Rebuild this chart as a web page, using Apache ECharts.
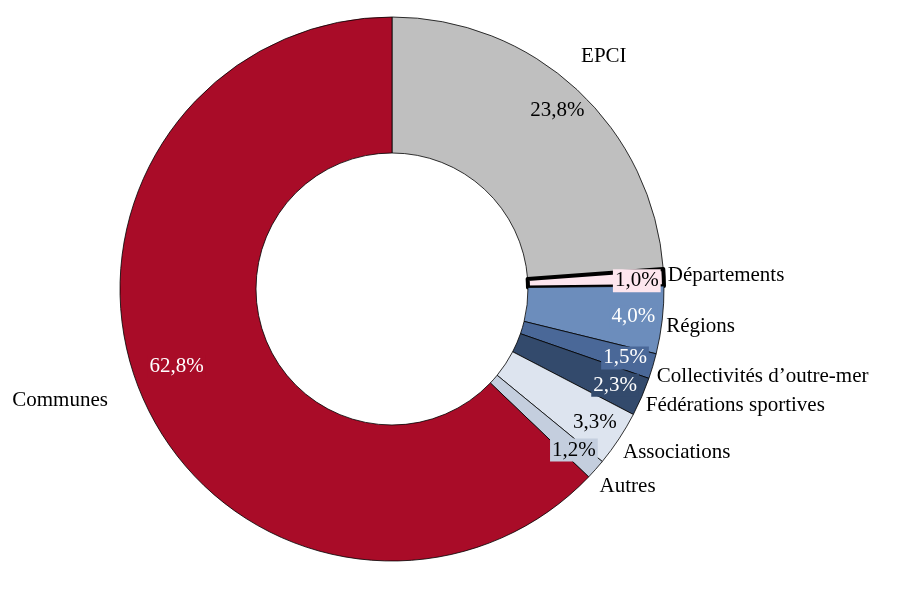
<!DOCTYPE html>
<html style="height: 100%">
<head>
    <meta charset="utf-8">
</head>
<body style="height: 100%; margin: 0; background: #fff">
<div id="container" style="height: 100%"></div>
<script type="text/javascript" src="https://cdn.jsdelivr.net/npm/echarts@6/dist/echarts.min.js"></script>
<script type="text/javascript">
    // données (en % du total)
    var categories = ['EPCI', 'Départements', 'Régions', 'Collectivités d\u2019outre-mer',
        'Fédérations sportives', 'Associations', 'Autres', 'Communes'];
    var values = [23.8, 1.0, 4.0, 1.5, 2.3, 3.3, 1.2, 62.8];
    var colors = ['#BFBFBF', '#FDE6EE', '#6C8DBC', '#4A6898', '#334A6C', '#DDE4EF', '#C4CEDE', '#A90C28'];
    var pctColors = ['#000', '#000', '#fff', '#fff', '#fff', '#000', '#000', '#fff'];

    var dom = document.getElementById("container");
    var myChart = echarts.init(dom);
    var font = 'Liberation Serif';
    var cx = 392, cy = 289, r0 = 136, r1 = 272;

    function fmtPct(v) {
        return v.toFixed(1).replace('.', ',') + '%';
    }

    // petits décalages des étiquettes pour coller au rendu Excel
    var nameShift = [[0, -33], [0, -2], [0, 6], [0, 10], [0, 9], [0, 14], [0, 17], [-30, 5]];

    var mainData = categories.map(function (name, i) {
        var item = {
            name: name,
            value: values[i],
            itemStyle: {color: colors[i]}
        };
        if (name === 'Départements') {
            item.itemStyle.borderWidth = 4;
            item.itemStyle.borderColor = '#000';
        }
        return item;
    });

    var pctData = categories.map(function (name, i) {
        return {
            name: name,
            value: values[i],
            label: {
                color: pctColors[i],
                backgroundColor: colors[i]
            }
        };
    });

    var option = {
        animation: false,
        series: [
            {
                type: 'pie',
                center: [cx, cy],
                radius: [r0, r1],
                startAngle: 90,
                clockwise: true,
                silent: true,
                avoidLabelOverlap: false,
                itemStyle: {borderColor: '#000', borderWidth: 0.8},
                label: {
                    show: true,
                    position: 'outside',
                    formatter: '{b}',
                    fontFamily: font,
                    fontSize: 21,
                    color: '#000',
                    distanceToLabelLine: 4
                },
                labelLine: {show: false, length: 0, length2: 0},
                labelLayout: function (p) {
                    var s = nameShift[p.dataIndex];
                    return {dx: s[0], dy: s[1]};
                },
                data: mainData
            },
            {
                type: 'pie',
                center: [cx, cy],
                radius: [208, 272],
                startAngle: 90,
                clockwise: true,
                silent: true,
                avoidLabelOverlap: false,
                itemStyle: {color: 'rgba(0,0,0,0)'},
                label: {
                    show: true,
                    position: 'inside',
                    formatter: function (p) { return fmtPct(p.value); },
                    fontFamily: font,
                    fontSize: 21,
                    padding: [2, 2, 0, 2]
                },
                labelLine: {show: false},
                labelLayout: function (p) {
                    if (p.dataIndex === 7) return {dx: 8, dy: -18};
                    if (p.dataIndex === 1) return {dx: 2, dy: 2};
                    return {};
                },
                data: pctData
            }
        ]
    };
    myChart.setOption(option, true);
</script>
</body>
</html>
